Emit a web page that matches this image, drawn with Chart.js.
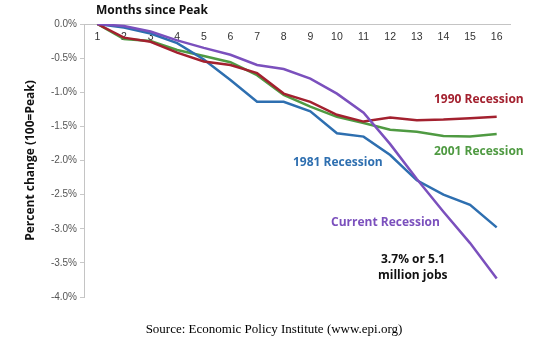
<!DOCTYPE html>
<html><head><meta charset="utf-8">
<script src="https://cdn.jsdelivr.net/npm/chart.js@4"></script>
<style>
html,body{margin:0;padding:0;background:#fff;}
#wrap{position:relative;width:534px;height:346px;}
#src{position:absolute;left:0;top:321px;width:548px;text-align:center;font-family:"Liberation Serif",serif;font-size:13px;color:#000;}
</style></head><body>
<div id="wrap"><canvas id="c" width="534" height="346"></canvas><div id="src">Source: Economic Policy Institute (www.epi.org)</div></div>
<script>
const months = ['1','2','3','4','5','6','7','8','9','10','11','12','13','14','15','16'];
const recession1990 = [0, -0.20, -0.26, -0.42, -0.55, -0.60, -0.72, -1.02, -1.14, -1.33, -1.43, -1.37, -1.41, -1.40, -1.38, -1.36];
const recession2001 = [0, -0.22, -0.25, -0.38, -0.47, -0.56, -0.75, -1.04, -1.21, -1.36, -1.45, -1.55, -1.58, -1.64, -1.65, -1.61];
const recession1981 = [0, -0.05, -0.14, -0.28, -0.52, -0.82, -1.14, -1.14, -1.28, -1.60, -1.65, -1.92, -2.29, -2.50, -2.65, -2.98];
const currentRecession = [0, -0.03, -0.11, -0.24, -0.35, -0.45, -0.60, -0.66, -0.80, -1.02, -1.30, -1.76, -2.27, -2.75, -3.21, -3.73];
const yTickStep = 0.5;

const RED = '#a3212f', GREEN = '#4f9a42', BLUE = '#2e6fb0', PURPLE = '#7b50bd';

const notes = [
  {text:'Months since Peak', x:96, y:11, color:'#111'},
  {text:'1990 Recession', x:434, y:100, color:RED},
  {text:'2001 Recession', x:434, y:152, color:GREEN},
  {text:'1981 Recession', x:293, y:163, color:BLUE},
  {text:'Current Recession', x:331, y:223, color:PURPLE},
  {text:'3.7% or 5.1', x:381, y:260, color:'#111'},
  {text:'million jobs', x:378, y:276, color:'#111'}
];

const notesPlugin = {
  id: 'notes',
  afterDraw(chart) {
    const ctx = chart.ctx;
    ctx.save();
    ctx.font = 'bold 12px "Open Sans"';
    ctx.textBaseline = 'middle';
    ctx.textAlign = 'left';
    notes.forEach(n => { ctx.fillStyle = n.color; ctx.fillText(n.text, n.x, n.y); });
    ctx.restore();
  }
};

const ds = (label, data, color) => ({label, data, borderColor: color, backgroundColor: color, borderWidth: 2.5, pointRadius: 0, tension: 0, fill: false});

new Chart(document.getElementById('c'), {
  type: 'line',
  data: {
    labels: months,
    datasets: [
      ds('Current Recession', currentRecession, PURPLE),
      ds('1990 Recession', recession1990, RED),
      ds('1981 Recession', recession1981, BLUE),
      ds('2001 Recession', recession2001, GREEN)
    ]
  },
  options: {
    responsive: false,
    animation: false,
    layout: {padding: {left: 0, right: 24, top: 24, bottom: 49}},
    plugins: {legend: {display: false}, tooltip: {enabled: false}},
    scales: {
      x: {
        type: 'category',
        position: {y: 0},
        offset: true,
        grid: {drawOnChartArea: false, drawTicks: false, color: '#c8c8c8'},
        border: {color: '#c4c4c4'},
        ticks: {padding: 7, color: '#333', font: {family: '"Liberation Sans"', size: 10.5}, maxRotation: 0, autoSkip: false}
      },
      y: {
        min: -4, max: 0,
        grid: {drawOnChartArea: false, tickLength: 4, color: '#c8c8c8'},
        border: {color: '#c4c4c4'},
        ticks: {stepSize: yTickStep, padding: 3, color: '#555', font: {family: '"Liberation Sans"', size: 10},
          callback: v => v.toFixed(1) + '%'},
        title: {display: true, text: 'Percent change (100=Peak)', color: '#111', font: {family: '"Open Sans"', size: 12, weight: 'bold'}, padding: {top: 23, bottom: 0}},
        afterFit(s) { s.width = 84; }
      }
    }
  },
  plugins: [notesPlugin]
});
</script>
</body></html>
